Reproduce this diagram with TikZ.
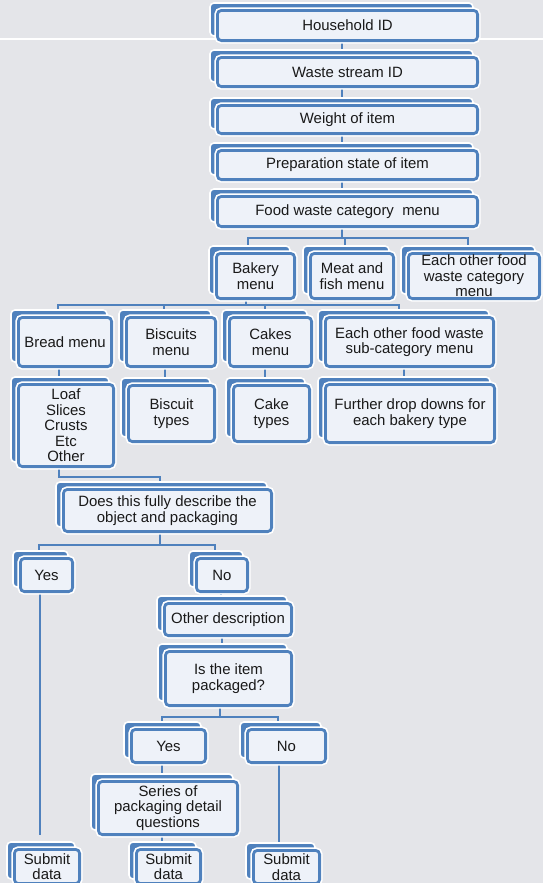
\documentclass[tikz,border=0pt]{standalone}
\usepackage{fontspec}
\setmainfont{Liberation Sans}
\usetikzlibrary{calc}

\definecolor{cardblue}{HTML}{4F81BD}
\definecolor{cardfill}{HTML}{EEF2F9}
\definecolor{pagegray}{HTML}{E4E5E9}

\pgfdeclarelayer{back}
\pgfsetlayers{back,main}

\tikzset{
  card/.style={draw=cardblue, fill=cardfill, line width=2.1pt, rounded corners=3pt,
    inner sep=0pt, align=center, text=black!90,
    font=\fontsize{11.2pt}{11.6pt}\selectfont,
    preaction={draw=white, line width=4.6pt}},
  cardback/.style={fill=cardblue, draw=white, line width=1.2pt, rounded corners=3pt},
  conn/.style={draw=cardblue, line width=2.1pt},
}

% \card{name}{left}{top}{right}{bottom}{text}: front box with a shadow tab behind it
\newcommand\card[6]{%
  \path[cardback] ({#2-6},{#3-6}) rectangle ({#4-6},{#5-6});
  \node[card, minimum width={(#4-#2)*0.75pt-2.1pt}, minimum height={(#5-#3)*0.75pt-2.1pt}]
    (#1) at ({(#2+#4)/2},{(#3+#5)/2}) {#6};
}

% \drop{from}{to}{dx}: straight vertical link from one box down to the next
\newcommand\drop[3]{%
  \coordinate (#1-#2) at ([shift={(#3,0)}]#1.south);
  \draw[conn] (#1-#2) -- (#1-#2 |- #2.north);
}

\begin{document}
\begin{tikzpicture}[x=0.75pt,y=-0.75pt]
\useasboundingbox (0,0) rectangle (543,883);
\clip (0,0) rectangle (543,883);

\begin{pgfonlayer}{back}
  \fill[pagegray] (0,0) rectangle (543,883);
  \draw[white, line width=0.9pt] (0,39) -- (543,39);
\end{pgfonlayer}

% main column
\card{hh}{216}{9}{479}{42}{Household ID}
\card{ws}{216}{56}{479}{88}{Waste stream ID}
\card{wt}{216}{104}{479}{135}{Weight of item}
\card{prep}{216}{149}{479}{181}{Preparation state of item}
\card{cat}{216}{195}{479}{228}{Food waste category\ \ menu}

% categories
\card{bak}{215}{252}{296}{300}{Bakery\\menu}
\card{meat}{309}{252}{395}{300}{Meat and\\fish menu}
\card{oth}{407}{252}{541}{300}{Each other food\\waste category\\menu}

% bakery sub-categories
\card{bread}{17}{316}{113}{368}{Bread menu}
\card{bisc}{125}{316}{217}{368}{Biscuits\\menu}
\card{cake}{228}{316}{313}{368}{Cakes\\menu}
\card{sub}{324}{316}{495}{368}{Each other food waste\\sub-category menu}

\card{loaf}{17}{383}{115}{468}{Loaf\\Slices\\Crusts\\Etc\\Other}
\card{bt}{127}{384}{216}{443}{Biscuit\\types}
\card{ct}{232}{384}{311}{443}{Cake\\types}
\card{fd}{324}{383}{496}{444}{Further drop downs for\\each bakery type}

% description check
\card{does}{62}{488}{273}{533}{Does this fully describe the\\object and packaging}
\card{yes1}{19}{557}{74}{593}{Yes}
\card{no1}{195}{557}{249}{593}{No}
\card{od}{163}{602}{293}{637}{Other description}
\card{pkg}{164}{650}{293}{707}{Is the item\\packaged?}
\card{yes2}{130}{728}{207}{764}{Yes}
\card{no2}{246}{728}{327}{764}{No}
\card{ser}{97}{780}{239}{836}{Series of\\packaging detail\\questions}

% submit
\card{sd1}{13}{848}{81}{885}{Submit\\data}
\card{sd2}{135}{848}{202}{885}{Submit\\data}
\card{sd3}{252}{849}{321}{885}{Submit\\data}

\begin{pgfonlayer}{back}
  \drop{hh}{ws}{-5.5}
  \drop{ws}{wt}{-5.5}
  \drop{wt}{prep}{-5.5}
  \drop{prep}{cat}{-5.5}

  \coordinate (k1) at ([shift={(-5.5,10)}]cat.south);
  \draw[conn] ([shift={(-5.5,0)}]cat.south) -- (k1);
  \draw[conn] ([shift={(-7.5,0)}]bak.north) |- (k1);
  \draw[conn] ([shift={(-7,0)}]meat.north) |- (k1);
  \draw[conn] ([shift={(-6,0)}]oth.north) |- (k1);

  \coordinate (k2) at ([shift={(-9.5,5)}]bak.south);
  \draw[conn] ([shift={(-9.5,0)}]bak.south) -- (k2);
  \draw[conn] ([shift={(-7,0)}]bread.north) |- (k2);
  \draw[conn] ([shift={(-7,0)}]bisc.north) |- (k2);
  \draw[conn] ([shift={(-5.5,0)}]cake.north) |- (k2);
  \draw[conn] ([shift={(-10.5,0)}]sub.north) |- (k2);

  \drop{bread}{loaf}{-6}
  \drop{bisc}{bt}{-6}
  \drop{cake}{ct}{-5.5}
  \drop{sub}{fd}{-5.5}

  \coordinate (k3) at ([shift={(-7.5,-11)}]does.north);
  \draw[conn] ([shift={(-7,0)}]loaf.south) |- (k3) -- ([shift={(-7.5,0)}]does.north);

  \coordinate (k4) at ([shift={(-7.5,12)}]does.south);
  \draw[conn] ([shift={(-7.5,0)}]does.south) -- (k4);
  \draw[conn] ([shift={(-7.5,0)}]yes1.north) |- (k4);
  \draw[conn] ([shift={(-7,0)}]no1.north) |- (k4);

  \coordinate (y1) at ([shift={(-6.5,0)}]yes1.south);
  \draw[conn, shorten >=9.5pt] (y1) -- (y1 |- sd1.north);

  \drop{no1}{od}{-1}
  \drop{od}{pkg}{-6}

  \coordinate (k5) at ([shift={(-8.5,10)}]pkg.south);
  \draw[conn] ([shift={(-8.5,0)}]pkg.south) -- (k5);
  \draw[conn] ([shift={(-6.5,0)}]yes2.north) |- (k5);
  \draw[conn] ([shift={(-8.5,0)}]no2.north) |- (k5);

  \drop{yes2}{ser}{-6.5}
  \drop{ser}{sd2}{-6}
  \drop{no2}{sd3}{-7.5}
\end{pgfonlayer}
\end{tikzpicture}
\end{document}
